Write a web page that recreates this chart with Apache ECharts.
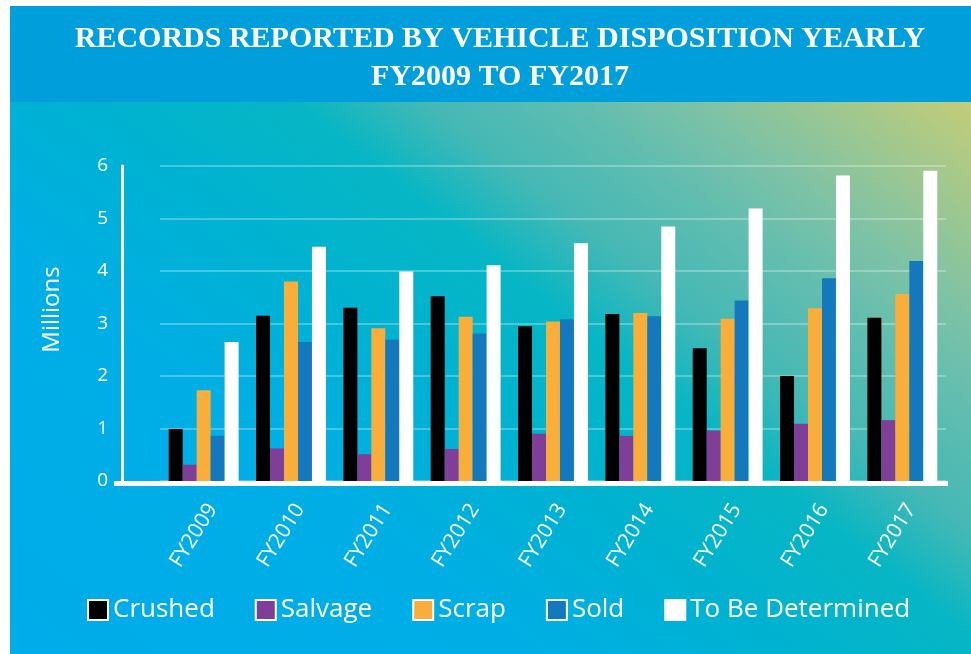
<!DOCTYPE html>
<html>
<head>
<meta charset="utf-8">
<script src="https://cdn.jsdelivr.net/npm/echarts@6/dist/echarts.min.js"></script>
<style>
html,body{margin:0;padding:0;background:#fff;}
#main{width:971px;height:654px;}
</style>
</head>
<body>
<div id="main"></div>
<script>
const categories = ['FY2009','FY2010','FY2011','FY2012','FY2013','FY2014','FY2015','FY2016','FY2017'];
const crushed = [0.99, 3.15, 3.30, 3.52, 2.95, 3.18, 2.53, 2.00, 3.11];
const salvage = [0.31, 0.62, 0.51, 0.61, 0.90, 0.86, 0.96, 1.09, 1.16];
const scrap   = [1.73, 3.80, 2.91, 3.13, 3.04, 3.20, 3.09, 3.29, 3.56];
const sold    = [0.86, 2.65, 2.69, 2.81, 3.08, 3.14, 3.44, 3.86, 4.19];
const tbd     = [2.65, 4.46, 3.99, 4.11, 4.53, 4.85, 5.19, 5.82, 5.91];
const yTicks  = [0, 1, 2, 3, 4, 5, 6];

const seriesNames = ['Crushed','Salvage','Scrap','Sold','To Be Determined'];
const seriesData = [crushed, salvage, scrap, sold, tbd];
const seriesColors = ['#000000','#7f3f98','#f9ae3c','#1478bd','#ffffff'];

const chart = echarts.init(document.getElementById('main'));
const font = 'Open Sans';

const option = {
  backgroundColor: '#ffffff',
  animation: false,
  graphic: [
    { type: 'rect', z: -10, silent: true, shape: { x: 10, y: 6, width: 961, height: 96 }, style: { fill: '#009fdc' } },
    { type: 'rect', z: -10, silent: true, shape: { x: 10, y: 102, width: 961, height: 552 },
      style: { fill: new echarts.graphic.LinearGradient(14, 648, 646, -153, [
        { offset: 0, color: '#00ace9' },
        { offset: 0.30, color: '#00aee6' },
        { offset: 0.46, color: '#00b2d1' },
        { offset: 0.59, color: '#06b6c4' },
        { offset: 0.67, color: '#45b8b5' },
        { offset: 0.755, color: '#5fbdb0' },
        { offset: 0.833, color: '#7dc2a6' },
        { offset: 1, color: '#c2cd78' }
      ], true) } },
    { type: 'rect', z: 100, silent: true, shape: { x: 114, y: 481, width: 834, height: 5 }, style: { fill: '#ffffff' } }
  ],
  title: {
    text: 'RECORDS REPORTED BY VEHICLE DISPOSITION YEARLY\nFY2009 TO FY2017',
    left: 495,
    textAlign: 'center',
    top: 15,
    textStyle: { color: '#ffffff', fontFamily: 'Liberation Serif', fontWeight: 'bold', fontSize: 30, lineHeight: 38 }
  },
  legend: {
    data: seriesNames,
    left: 82,
    top: 592,
    itemWidth: 20,
    itemHeight: 20,
    itemGap: 40,
    icon: 'rect',
    itemStyle: { borderColor: '#ffffff', borderWidth: 2 },
    textStyle: { color: '#ffffff', fontFamily: font, fontSize: 26 }
  },
  grid: { left: 160, right: 25, top: 166, bottom: 173 },
  xAxis: {
    type: 'category',
    data: categories,
    axisLine: { show: false },
    axisTick: { show: false },
    axisLabel: { color: '#ffffff', fontFamily: font, fontSize: 21, rotate: 58, margin: 19, verticalAlign: 'top' }
  },
  yAxis: {
    type: 'value',
    min: yTicks[0],
    max: yTicks[yTicks.length - 1],
    interval: 1,
    offset: 38,
    name: 'Millions',
    nameLocation: 'middle',
    nameGap: 58,
    nameRotate: 90,
    nameTextStyle: { color: '#ffffff', fontFamily: font, fontSize: 24, padding: [0, 0, 0, 28] },
    axisLine: { show: true, lineStyle: { color: '#ffffff', width: 3 } },
    axisTick: { show: false },
    axisLabel: { color: '#ffffff', fontFamily: font, fontSize: 19, margin: 14 },
    splitLine: { lineStyle: { color: 'rgba(255,255,255,0.28)', width: 2 } }
  },
  series: seriesNames.map((n, i) => ({
    name: n,
    type: 'bar',
    data: seriesData[i],
    barGap: '0%',
    barCategoryGap: '20%',
    itemStyle: { color: seriesColors[i] }
  }))
};
chart.setOption(option);
</script>
</body>
</html>
